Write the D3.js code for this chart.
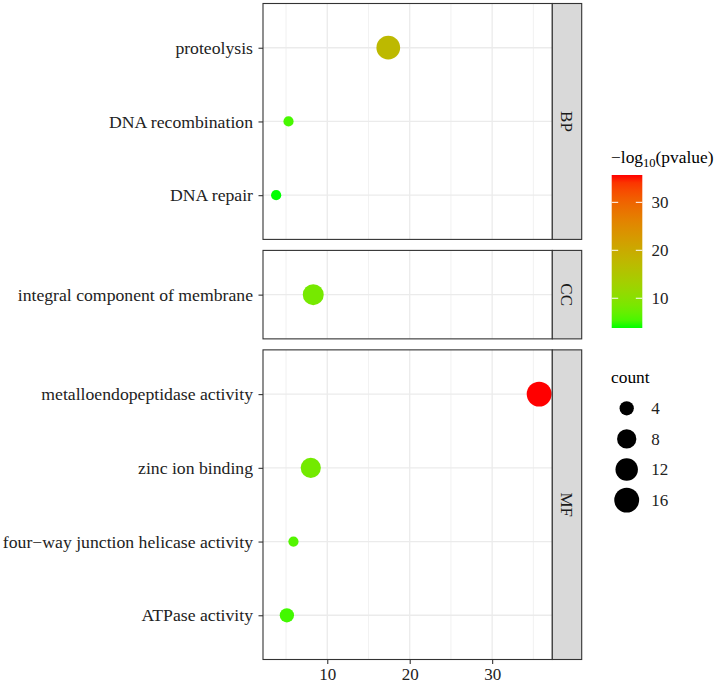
<!DOCTYPE html>
<html>
<head>
<meta charset="utf-8">
<script src="https://cdn.jsdelivr.net/npm/d3@7"></script>
<style>
	body { margin: 0; background: #fff; }
	svg text { font-family: 'Liberation Serif', 'Times New Roman', Times, Tinos, 'Noto Serif', 'DejaVu Serif', 'Nimbus Roman', 'Nimbus Roman No9 L', FreeSerif, serif; }
</style>
</head>
<body>
<div id="dot-chart"></div>
<script>
// Chart data
var TERMS = [
	'proteolysis',
	'DNA recombination',
	'DNA repair',
	'integral component of membrane',
	'metalloendopeptidase activity',
	'zinc ion binding',
	'four\u2212way junction helicase activity',
	'ATPase activity'
];
var ONTOLOGY = ['BP', 'BP', 'BP', 'CC', 'MF', 'MF', 'MF', 'MF'];
var LOG_P = [17.4, 5.3, 3.8, 8.3, 35.7, 8.0, 5.9, 5.1];
var COUNTS = [14, 3, 3, 10, 16, 9, 3, 4];
var GROUPS = ['BP', 'CC', 'MF'];
var X_TICKS = [10, 20, 30];
var X_MINOR = [5, 15, 25, 35];
var COLOR_TICKS = [10, 20, 30];
var COUNT_TICKS = [4, 8, 12, 16];

var WIDTH = 718;
var HEIGHT = 683;

var renderDotChart = function() {
	var margins = { top: 3.5, left: 263, bottom: 659.5 };
	var plotRight = 552.3;
	var stripWidth = 29.4;
	var panelGap = 11;

	var rows = TERMS.map(function(t, i) {
		return { term: t, group: ONTOLOGY[i], value: LOG_P[i], count: COUNTS[i] };
	});

	var svg = d3.select('#dot-chart')
		.append('svg')
		.attr('width', WIDTH)
		.attr('height', HEIGHT);

	/*
	 * Scales
	 */
	var xMin = d3.min(LOG_P), xMax = d3.max(LOG_P);
	var xPad = (xMax - xMin) * 0.05;
	var xScale = d3.scaleLinear()
		.domain([xMin - xPad, xMax + xPad])
		.range([margins.left, plotRight]);

	var colorScale = d3.scaleLinear()
		.domain([xMin, xMax])
		.range(['#00ff00', '#ff0000'])
		.interpolate(d3.interpolateLab);

	var cMin = d3.min(COUNTS), cMax = d3.max(COUNTS);
	var sizeScale = d3.scaleSqrt()
		.domain([0, cMax - cMin])
		.range([5.1, 12.45]);
	var radius = function(c) { return sizeScale(c - cMin); };

	// panel heights follow the number of terms (free space)
	var units = GROUPS.map(function(g) {
		return rows.filter(function(r) { return r.group == g; }).length + 0.2;
	});
	var step = (margins.bottom - margins.top - panelGap * (GROUPS.length - 1)) / d3.sum(units);

	var top = margins.top;
	GROUPS.forEach(function(g, gi) {
		var groupRows = rows.filter(function(r) { return r.group == g; });
		var h = units[gi] * step;
		var yScale = d3.scalePoint()
			.domain(groupRows.map(function(r) { return r.term; }))
			.range([top, top + h])
			.padding(0.6);

		var panel = svg.append('g').attr('class', 'panel');

		// grid
		panel.selectAll('.minor')
			.data(X_MINOR)
			.enter()
			.append('line')
			.attr('x1', function(d) { return xScale(d); })
			.attr('x2', function(d) { return xScale(d); })
			.attr('y1', top)
			.attr('y2', top + h)
			.attr('stroke', '#ebebeb')
			.attr('stroke-width', 0.7);

		panel.selectAll('.major')
			.data(X_TICKS)
			.enter()
			.append('line')
			.attr('x1', function(d) { return xScale(d); })
			.attr('x2', function(d) { return xScale(d); })
			.attr('y1', top)
			.attr('y2', top + h)
			.attr('stroke', '#ebebeb')
			.attr('stroke-width', 1.3);

		panel.selectAll('.hgrid')
			.data(groupRows)
			.enter()
			.append('line')
			.attr('x1', margins.left)
			.attr('x2', plotRight)
			.attr('y1', function(d) { return yScale(d.term); })
			.attr('y2', function(d) { return yScale(d.term); })
			.attr('stroke', '#ebebeb')
			.attr('stroke-width', 1.3);

		// points
		panel.selectAll('circle')
			.data(groupRows)
			.enter()
			.append('circle')
			.attr('cx', function(d) { return xScale(d.value); })
			.attr('cy', function(d) { return yScale(d.term); })
			.attr('r', function(d) { return radius(d.count); })
			.attr('fill', function(d) { return colorScale(d.value); });

		// border
		panel.append('rect')
			.attr('x', margins.left)
			.attr('y', top)
			.attr('width', plotRight - margins.left)
			.attr('height', h)
			.attr('fill', 'none')
			.attr('stroke', '#333')
			.attr('stroke-width', 1.1);

		// y axis
		var yAxis = d3.axisLeft(yScale).tickSize(4.5).tickPadding(5.5);
		var yg = panel.append('g')
			.attr('transform', 'translate(' + margins.left + ',0)')
			.call(yAxis)
			.attr('font-size', 17.7);
		yg.select('.domain').remove();
		yg.selectAll('line').attr('stroke', '#333').attr('stroke-width', 1.1);
		yg.selectAll('text').attr('fill', '#222');

		// strip
		panel.append('rect')
			.attr('x', plotRight)
			.attr('y', top)
			.attr('width', stripWidth)
			.attr('height', h)
			.attr('fill', '#d9d9d9')
			.attr('stroke', '#333')
			.attr('stroke-width', 1.1);

		panel.append('text')
			.attr('transform', 'translate(' + (plotRight + stripWidth / 2) + ',' + (top + h / 2) + ') rotate(90)')
			.attr('text-anchor', 'middle')
			.attr('dy', '0.35em')
			.attr('fill', '#1a1a1a')
			.attr('font-size', 17)
			.text(g);

		top += h + panelGap;
	});

	/*
	 * x axis
	 */
	var xAxis = d3.axisBottom(xScale).tickValues(X_TICKS).tickSize(4.5).tickPadding(3.5);
	var xg = svg.append('g')
		.attr('transform', 'translate(0,' + margins.bottom + ')')
		.call(xAxis)
		.attr('font-size', 17);
	xg.select('.domain').remove();
	xg.selectAll('line').attr('stroke', '#333').attr('stroke-width', 1.1);
	xg.selectAll('text').attr('fill', '#222');

	/*
	 * Colour legend
	 */
	var legendX = 611.7;
	var barW = 30.6;
	var barTop = 175, barBottom = 328;

	var title = svg.append('text')
		.attr('x', 611)
		.attr('y', 163)
		.attr('fill', '#000')
		.attr('font-size', 17.4);
	title.append('tspan').text('\u2212log');
	title.append('tspan').attr('dy', 4).attr('font-size', 12.5).text('10');
	title.append('tspan').attr('dy', -4).text('(pvalue)');

	var barScale = d3.scaleLinear()
		.domain([xMin, xMax])
		.range([barBottom, barTop]);

	var defs = svg.append('defs');
	var grad = defs.append('linearGradient')
		.attr('id', 'pgrad')
		.attr('x1', 0).attr('x2', 0)
		.attr('y1', 1).attr('y2', 0);
	d3.range(0, 1.0001, 0.05).forEach(function(t) {
		grad.append('stop')
			.attr('offset', t)
			.attr('stop-color', colorScale(xMin + t * (xMax - xMin)));
	});

	svg.append('rect')
		.attr('x', legendX)
		.attr('y', barTop)
		.attr('width', barW)
		.attr('height', barBottom - barTop)
		.attr('fill', 'url(#pgrad)');

	var cticks = svg.append('g').selectAll('g')
		.data(COLOR_TICKS)
		.enter()
		.append('g');
	cticks.append('line')
		.attr('x1', legendX).attr('x2', legendX + 6.5)
		.attr('y1', function(d) { return barScale(d); })
		.attr('y2', function(d) { return barScale(d); })
		.attr('stroke', '#fff').attr('stroke-width', 1);
	cticks.append('line')
		.attr('x1', legendX + barW - 6.5).attr('x2', legendX + barW)
		.attr('y1', function(d) { return barScale(d); })
		.attr('y2', function(d) { return barScale(d); })
		.attr('stroke', '#fff').attr('stroke-width', 1);
	cticks.append('text')
		.attr('x', 651.5)
		.attr('y', function(d) { return barScale(d); })
		.attr('dy', '0.35em')
		.attr('fill', '#222')
		.attr('font-size', 17)
		.text(function(d) { return d; });

	/*
	 * Size legend
	 */
	svg.append('text')
		.attr('x', 611)
		.attr('y', 383)
		.attr('fill', '#000')
		.attr('font-size', 17.4)
		.text('count');

	var sizeKeys = svg.append('g').selectAll('g')
		.data(COUNT_TICKS)
		.enter()
		.append('g')
		.attr('transform', function(d, i) {
			return 'translate(626.7,' + (408.3 + i * 30.6) + ')';
		});
	sizeKeys.append('circle')
		.attr('r', function(d) { return radius(d); })
		.attr('fill', '#000');
	sizeKeys.append('text')
		.attr('x', 24.5)
		.attr('dy', '0.35em')
		.attr('fill', '#222')
		.attr('font-size', 17)
		.text(function(d) { return d; });
};

renderDotChart();
</script>
</body>
</html>
